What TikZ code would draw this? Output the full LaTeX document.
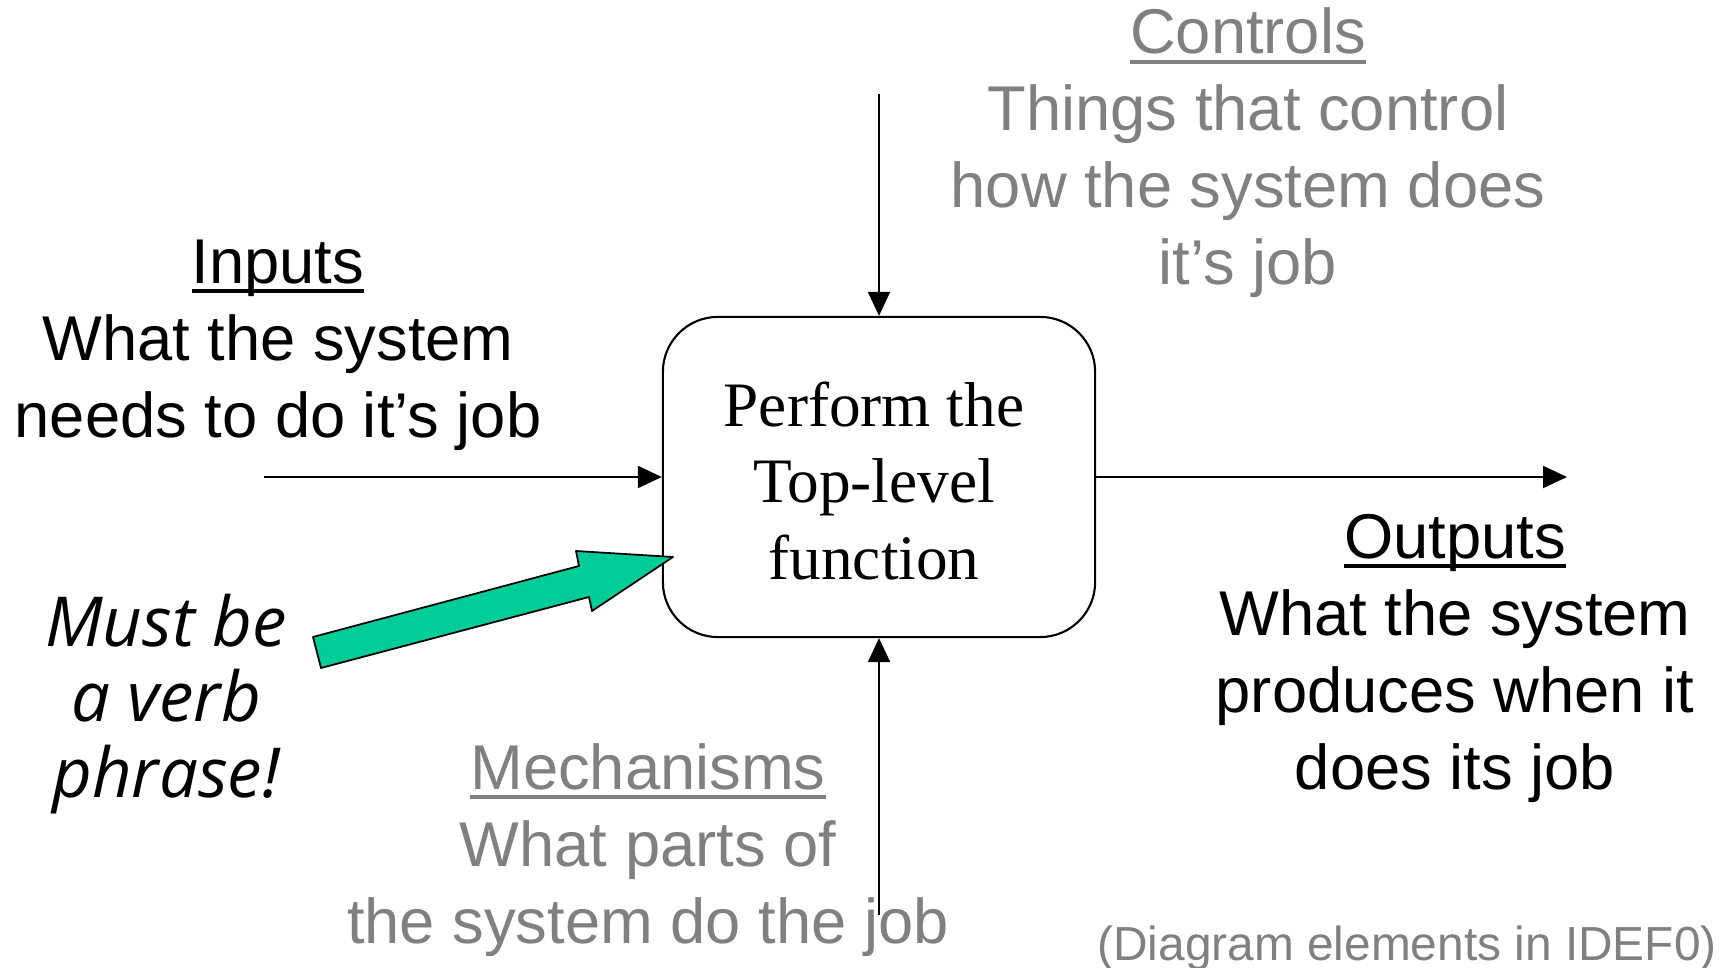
\documentclass[tikz,border=0pt]{standalone}
\usepackage{fontspec}
\setmainfont{Liberation Sans}
\newfontfamily\boxfont{Liberation Serif}
\newfontfamily\notefont{Open Sans}
\usetikzlibrary{arrows.meta}
\definecolor{idefgray}{RGB}{128,128,128}
\definecolor{idefgreen}{RGB}{0,204,153}
\newsavebox\ulbox
\newcommand\ulword[1]{\sbox\ulbox{#1}\rlap{\rule[-2.8pt]{\wd\ulbox}{1.1pt}}\usebox\ulbox}
\begin{document}
\begin{tikzpicture}[x=0.01cm,y=-0.01cm,line join=round,>={Triangle[length=0.24cm,width=0.22cm]},line width=0.6pt,
	lbl/.style={align=center,inner sep=0pt,font=\fontsize{18}{21.9}\selectfont},
	graylbl/.style={lbl,text=idefgray}]
	\useasboundingbox (0,0) rectangle (1728,968);
	% the function box
	\node[draw,rounded corners=0.55cm,minimum width=4.32cm,minimum height=3.2cm,align=center,
		font=\boxfont\fontsize{18}{21.8}\selectfont] (func) at (879,477) {};
	\node[align=center,inner sep=0pt,font=\boxfont\fontsize{18}{21.8}\selectfont] (functext) at (874,481) {Perform the\\Top-level\\function};
	% free ends of the four arrows
	\coordinate (inA) at (264,477);
	\coordinate (outB) at (1567,477);
	\coordinate (ctrlA) at (879,94);
	\coordinate (mechA) at (879,915);
	\draw[->] (inA)--(func.west);
	\draw[->] (func.east)--(outB);
	\draw[->] (ctrlA)--(func.north);
	\draw[->] (mechA)--(func.south);
	% labels
	\node[lbl] (inputs) at (278,345) {\ulword{Inputs}\\What the system\\needs to do it’s job};
	\node[graylbl] (controls) at (1248,153) {\ulword{Controls}\\Things that control\\how the system does\\it’s job};
	\node[lbl] (outputs) at (1455,658) {\ulword{Outputs}\\What the system\\produces when it\\does its job};
	\node[graylbl] (mechs) at (648,850) {\ulword{Mechanisms}\\What parts of\\the system do the job};
	\node[align=center,inner sep=0pt,font=\notefont\itshape\fontsize{19.6}{21.5}\selectfont] (verb) at (166,704) {Must be\\a verb\\phrase!};
	\node[inner sep=0pt,text=idefgray,font=\fontsize{13.6}{16}\selectfont] (idef) at (1407,948) {(Diagram elements in IDEF0)};
	% green block arrow
	\draw[fill=idefgreen,line width=0.5pt] (313,637)--(579,566)--(576,551)--(673,557)--(592,611)--(589,597)--(321,668)--cycle;
\end{tikzpicture}
\end{document}
